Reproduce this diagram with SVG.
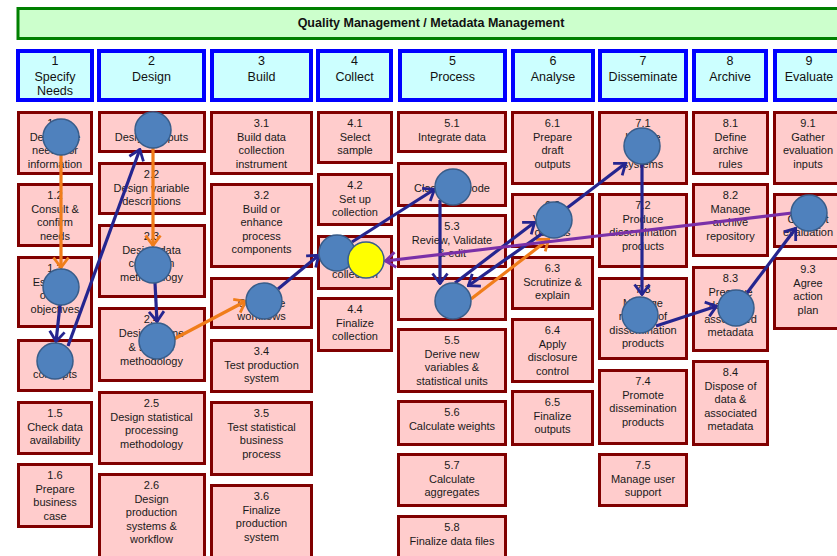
<svg xmlns="http://www.w3.org/2000/svg" width="837" height="556" viewBox="0 0 837 556">
<defs>
<style>
.ttl rect{fill:#ccffcc;stroke:#008000;stroke-width:3}
.ttl text{font-family:"Liberation Sans",Arial,sans-serif;font-size:12.5px;font-weight:bold;fill:#111;text-anchor:middle}
.hdr rect{fill:#ccffff;stroke:#0000ff;stroke-width:4}
.hdr text{font-family:"Liberation Sans",Arial,sans-serif;font-size:12.5px;fill:#111;text-anchor:middle}
.box rect{fill:#ffcccc;stroke:#800000;stroke-width:3}
.box text{font-family:"Liberation Sans",Arial,sans-serif;font-size:11px;fill:#1a1a1a;text-anchor:middle}
.dot{fill:#4f81bd;stroke:#385d8a;stroke-width:1.5}
.ydot{fill:#ffff00;stroke:#385d8a;stroke-width:1.5}
.cn{fill:none;stroke-width:3.2}
.nv{stroke:#25258f}
.or{stroke:#f07d1a}
.pu{stroke:#7a30a8}
</style>
<marker id="mNv" viewBox="0 0 13 18" refX="12" refY="9" markerWidth="13" markerHeight="18" markerUnits="userSpaceOnUse" orient="auto"><path d="M1.5,1.5 L11.5,9 L1.5,16.5" fill="none" stroke="#25258f" stroke-width="2.8"/></marker>
<marker id="mOr" viewBox="0 0 13 18" refX="12" refY="9" markerWidth="13" markerHeight="18" markerUnits="userSpaceOnUse" orient="auto"><path d="M1.5,1.5 L11.5,9 L1.5,16.5" fill="none" stroke="#f07d1a" stroke-width="2.8"/></marker>
<marker id="mPu" viewBox="0 0 13 18" refX="12" refY="9" markerWidth="13" markerHeight="18" markerUnits="userSpaceOnUse" orient="auto"><path d="M1.5,1.5 L11.5,9 L1.5,16.5" fill="none" stroke="#7a30a8" stroke-width="2.8"/></marker>
</defs>
<rect width="837" height="556" fill="#ffffff"/>

<g id="title" class="ttl"><rect x="18" y="8.5" width="830" height="30"/><text x="431" y="27">Quality Management / Metadata Management</text></g>

<g id="h1" class="hdr"><rect x="18" y="51" width="74" height="49"/><text x="55" y="65">1<tspan x="55" y="80.5">Specify</tspan><tspan x="55" y="95">Needs</tspan></text></g>
<g id="h2" class="hdr"><rect x="99" y="51" width="105" height="49"/><text x="151.5" y="65">2<tspan x="151.5" y="80.5">Design</tspan></text></g>
<g id="h3" class="hdr"><rect x="212" y="51" width="99" height="49"/><text x="261.5" y="65">3<tspan x="261.5" y="80.5">Build</tspan></text></g>
<g id="h4" class="hdr"><rect x="318" y="51" width="73" height="49"/><text x="354.5" y="65">4<tspan x="354.5" y="80.5">Collect</tspan></text></g>
<g id="h5" class="hdr"><rect x="400" y="51" width="105" height="49"/><text x="452.5" y="65">5<tspan x="452.5" y="80.5">Process</tspan></text></g>
<g id="h6" class="hdr"><rect x="513" y="51" width="80" height="49"/><text x="553" y="65">6<tspan x="553" y="80.5">Analyse</tspan></text></g>
<g id="h7" class="hdr"><rect x="600" y="51" width="86" height="49"/><text x="643" y="65">7<tspan x="643" y="80.5">Disseminate</tspan></text></g>
<g id="h8" class="hdr"><rect x="694" y="51" width="72" height="49"/><text x="730" y="65">8<tspan x="730" y="80.5">Archive</tspan></text></g>
<g id="h9" class="hdr"><rect x="775" y="51" width="70" height="49"/><text x="809" y="65">9<tspan x="809" y="80.5">Evaluate</tspan></text></g>

<g id="n1-1" class="box"><rect x="18.5" y="112.5" width="73" height="61"/><text x="55" y="127">1.1<tspan x="55" dy="13.5">Determine</tspan><tspan x="55" dy="13.5">needs for</tspan><tspan x="55" dy="13.5">information</tspan></text></g>
<g id="n1-2" class="box"><rect x="18.5" y="184.5" width="73" height="61"/><text x="55" y="199">1.2<tspan x="55" dy="13.5">Consult &amp;</tspan><tspan x="55" dy="13.5">confirm</tspan><tspan x="55" dy="13.5">needs</tspan></text></g>
<g id="n1-3" class="box"><rect x="18.5" y="257.5" width="73" height="69"/><text x="55" y="272">1.3<tspan x="55" dy="13.5">Establish</tspan><tspan x="55" dy="13.5">output</tspan><tspan x="55" dy="13.5">objectives</tspan></text></g>
<g id="n1-4" class="box"><rect x="18.5" y="340.5" width="73" height="50"/><text x="55" y="351">1.4<tspan x="55" dy="13.5">Identify</tspan><tspan x="55" dy="13.5">concepts</tspan></text></g>
<g id="n1-5" class="box"><rect x="18.5" y="402.5" width="73" height="51"/><text x="55" y="417">1.5<tspan x="55" dy="13.5">Check data</tspan><tspan x="55" dy="13.5">availability</tspan></text></g>
<g id="n1-6" class="box"><rect x="18.5" y="464.5" width="73" height="62"/><text x="55" y="479">1.6<tspan x="55" dy="13.5">Prepare</tspan><tspan x="55" dy="13.5">business</tspan><tspan x="55" dy="13.5">case</tspan></text></g>

<g id="n2-1" class="box"><rect x="99.5" y="112.5" width="105" height="39"/><text x="151.5" y="127">2.1<tspan x="151.5" dy="13.5">Design outputs</tspan></text></g>
<g id="n2-2" class="box"><rect x="99.5" y="163.5" width="105" height="50"/><text x="151.5" y="178">2.2<tspan x="151.5" dy="13.5">Design variable</tspan><tspan x="151.5" dy="13.5">descriptions</tspan></text></g>
<g id="n2-3" class="box"><rect x="99.5" y="225.5" width="105" height="71"/><text x="151.5" y="240">2.3<tspan x="151.5" dy="13.5">Design data</tspan><tspan x="151.5" dy="13.5">collection</tspan><tspan x="151.5" dy="13.5">methodology</tspan></text></g>
<g id="n2-4" class="box"><rect x="99.5" y="308.5" width="105" height="72"/><text x="151.5" y="323">2.4<tspan x="151.5" dy="14">Design frame</tspan><tspan x="151.5" dy="14">&amp; sample</tspan><tspan x="151.5" dy="14">methodology</tspan></text></g>
<g id="n2-5" class="box"><rect x="99.5" y="392.5" width="105" height="71"/><text x="151.5" y="407">2.5<tspan x="151.5" dy="13.5">Design statistical</tspan><tspan x="151.5" dy="13.5">processing</tspan><tspan x="151.5" dy="13.5">methodology</tspan></text></g>
<g id="n2-6" class="box"><rect x="99.5" y="474.5" width="105" height="90"/><text x="151.5" y="489">2.6<tspan x="151.5" dy="13.5">Design</tspan><tspan x="151.5" dy="13.5">production</tspan><tspan x="151.5" dy="13.5">systems &amp;</tspan><tspan x="151.5" dy="13.5">workflow</tspan></text></g>

<g id="n3-1" class="box"><rect x="211.5" y="112.5" width="100" height="61"/><text x="261.5" y="127">3.1<tspan x="261.5" dy="13.5">Build data</tspan><tspan x="261.5" dy="13.5">collection</tspan><tspan x="261.5" dy="13.5">instrument</tspan></text></g>
<g id="n3-2" class="box"><rect x="211.5" y="184.5" width="100" height="82"/><text x="261.5" y="199">3.2<tspan x="261.5" dy="13.5">Build or</tspan><tspan x="261.5" dy="13.5">enhance</tspan><tspan x="261.5" dy="13.5">process</tspan><tspan x="261.5" dy="13.5">components</tspan></text></g>
<g id="n3-3" class="box"><rect x="211.5" y="278.5" width="100" height="49"/><text x="261.5" y="293">3.3<tspan x="261.5" dy="13.5">Configure</tspan><tspan x="261.5" dy="13.5">workflows</tspan></text></g>
<g id="n3-4" class="box"><rect x="211.5" y="340.5" width="100" height="51"/><text x="261.5" y="355">3.4<tspan x="261.5" dy="13.5">Test production</tspan><tspan x="261.5" dy="13.5">system</tspan></text></g>
<g id="n3-5" class="box"><rect x="211.5" y="402.5" width="100" height="72"/><text x="261.5" y="417">3.5<tspan x="261.5" dy="13.5">Test statistical</tspan><tspan x="261.5" dy="13.5">business</tspan><tspan x="261.5" dy="13.5">process</tspan></text></g>
<g id="n3-6" class="box"><rect x="211.5" y="485.5" width="100" height="80"/><text x="261.5" y="500">3.6<tspan x="261.5" dy="13.5">Finalize</tspan><tspan x="261.5" dy="13.5">production</tspan><tspan x="261.5" dy="13.5">system</tspan></text></g>

<g id="n4-1" class="box"><rect x="318.5" y="112.5" width="73" height="50"/><text x="355" y="127">4.1<tspan x="355" dy="13.5">Select</tspan><tspan x="355" dy="13.5">sample</tspan></text></g>
<g id="n4-2" class="box"><rect x="318.5" y="174.5" width="73" height="50"/><text x="355" y="189">4.2<tspan x="355" dy="13.5">Set up</tspan><tspan x="355" dy="13.5">collection</tspan></text></g>
<g id="n4-3" class="box"><rect x="318.5" y="236.5" width="73" height="52"/><text x="355" y="251">4.3<tspan x="355" dy="13.5">Run</tspan><tspan x="355" dy="13.5">collection</tspan></text></g>
<g id="n4-4" class="box"><rect x="318.5" y="298.5" width="73" height="52"/><text x="355" y="313">4.4<tspan x="355" dy="13.5">Finalize</tspan><tspan x="355" dy="13.5">collection</tspan></text></g>

<g id="n5-1" class="box"><rect x="398.5" y="112.5" width="107" height="39"/><text x="452" y="127">5.1<tspan x="452" dy="13.5">Integrate data</tspan></text></g>
<g id="n5-2" class="box"><rect x="398.5" y="163.5" width="107" height="42"/><text x="452" y="178">5.2<tspan x="452" dy="13.5">Classify &amp; code</tspan></text></g>
<g id="n5-3" class="box"><rect x="398.5" y="215.5" width="107" height="51"/><text x="452" y="230">5.3<tspan x="452" dy="13.5">Review, Validate</tspan><tspan x="452" dy="13.5">&amp; edit</tspan></text></g>
<g id="n5-4" class="box"><rect x="398.5" y="278.5" width="107" height="41"/><text x="452" y="293">5.4<tspan x="452" dy="13.5">Impute</tspan></text></g>
<g id="n5-5" class="box"><rect x="398.5" y="329.5" width="107" height="62"/><text x="452" y="344">5.5<tspan x="452" dy="13.5">Derive new</tspan><tspan x="452" dy="13.5">variables &amp;</tspan><tspan x="452" dy="13.5">statistical units</tspan></text></g>
<g id="n5-6" class="box"><rect x="398.5" y="401.5" width="107" height="43"/><text x="452" y="416">5.6<tspan x="452" dy="13.5">Calculate weights</tspan></text></g>
<g id="n5-7" class="box"><rect x="398.5" y="454.5" width="107" height="51"/><text x="452" y="469">5.7<tspan x="452" dy="13.5">Calculate</tspan><tspan x="452" dy="13.5">aggregates</tspan></text></g>
<g id="n5-8" class="box"><rect x="398.5" y="516.5" width="107" height="50"/><text x="452" y="531">5.8<tspan x="452" dy="13.5">Finalize data files</tspan></text></g>

<g id="n6-1" class="box"><rect x="512.5" y="112.5" width="80" height="71"/><text x="552.5" y="127">6.1<tspan x="552.5" dy="13.5">Prepare</tspan><tspan x="552.5" dy="13.5">draft</tspan><tspan x="552.5" dy="13.5">outputs</tspan></text></g>
<g id="n6-2" class="box"><rect x="512.5" y="194.5" width="80" height="52"/><text x="552.5" y="209">6.2<tspan x="552.5" dy="13.5">Validate</tspan><tspan x="552.5" dy="13.5">outputs</tspan></text></g>
<g id="n6-3" class="box"><rect x="512.5" y="257.5" width="80" height="51"/><text x="552.5" y="272">6.3<tspan x="552.5" dy="13.5">Scrutinize &amp;</tspan><tspan x="552.5" dy="13.5">explain</tspan></text></g>
<g id="n6-4" class="box"><rect x="512.5" y="319.5" width="80" height="62"/><text x="552.5" y="334">6.4<tspan x="552.5" dy="13.5">Apply</tspan><tspan x="552.5" dy="13.5">disclosure</tspan><tspan x="552.5" dy="13.5">control</tspan></text></g>
<g id="n6-5" class="box"><rect x="512.5" y="391.5" width="80" height="53"/><text x="552.5" y="406">6.5<tspan x="552.5" dy="13.5">Finalize</tspan><tspan x="552.5" dy="13.5">outputs</tspan></text></g>

<g id="n7-1" class="box"><rect x="599.5" y="112.5" width="87" height="71"/><text x="643" y="127">7.1<tspan x="643" dy="13.5">Update</tspan><tspan x="643" dy="13.5">output</tspan><tspan x="643" dy="13.5">systems</tspan></text></g>
<g id="n7-2" class="box"><rect x="599.5" y="194.5" width="87" height="72"/><text x="643" y="209">7.2<tspan x="643" dy="13.5">Produce</tspan><tspan x="643" dy="13.5">dissemination</tspan><tspan x="643" dy="13.5">products</tspan></text></g>
<g id="n7-3" class="box"><rect x="599.5" y="278.5" width="87" height="80"/><text x="643" y="293">7.3<tspan x="643" dy="13.5">Manage</tspan><tspan x="643" dy="13.5">release of</tspan><tspan x="643" dy="13.5">dissemination</tspan><tspan x="643" dy="13.5">products</tspan></text></g>
<g id="n7-4" class="box"><rect x="599.5" y="370.5" width="87" height="73"/><text x="643" y="385">7.4<tspan x="643" dy="13.5">Promote</tspan><tspan x="643" dy="13.5">dissemination</tspan><tspan x="643" dy="13.5">products</tspan></text></g>
<g id="n7-5" class="box"><rect x="599.5" y="454.5" width="87" height="51"/><text x="643" y="469">7.5<tspan x="643" dy="13.5">Manage user</tspan><tspan x="643" dy="13.5">support</tspan></text></g>

<g id="n8-1" class="box"><rect x="693.5" y="112.5" width="74" height="61"/><text x="730.5" y="127">8.1<tspan x="730.5" dy="13.5">Define</tspan><tspan x="730.5" dy="13.5">archive</tspan><tspan x="730.5" dy="13.5">rules</tspan></text></g>
<g id="n8-2" class="box"><rect x="693.5" y="184.5" width="74" height="71"/><text x="730.5" y="199">8.2<tspan x="730.5" dy="13.5">Manage</tspan><tspan x="730.5" dy="13.5">archive</tspan><tspan x="730.5" dy="13.5">repository</tspan></text></g>
<g id="n8-3" class="box"><rect x="693.5" y="267.5" width="74" height="83"/><text x="730.5" y="282">8.3<tspan x="730.5" dy="13.5">Preserve</tspan><tspan x="730.5" dy="13.5">data and</tspan><tspan x="730.5" dy="13.5">associated</tspan><tspan x="730.5" dy="13.5">metadata</tspan></text></g>
<g id="n8-4" class="box"><rect x="693.5" y="361.5" width="74" height="83"/><text x="730.5" y="376">8.4<tspan x="730.5" dy="13.5">Dispose of</tspan><tspan x="730.5" dy="13.5">data &amp;</tspan><tspan x="730.5" dy="13.5">associated</tspan><tspan x="730.5" dy="13.5">metadata</tspan></text></g>

<g id="n9-1" class="box"><rect x="774.5" y="112.5" width="69" height="71"/><text x="808" y="127">9.1<tspan x="808" dy="13.5">Gather</tspan><tspan x="808" dy="13.5">evaluation</tspan><tspan x="808" dy="13.5">inputs</tspan></text></g>
<g id="n9-2" class="box"><rect x="774.5" y="194.5" width="69" height="52"/><text x="808" y="209">9.2<tspan x="808" dy="13.5">Conduct</tspan><tspan x="808" dy="13.5">evaluation</tspan></text></g>
<g id="n9-3" class="box"><rect x="774.5" y="258.5" width="69" height="70"/><text x="808" y="273">9.3<tspan x="808" dy="13.5">Agree</tspan><tspan x="808" dy="13.5">action</tspan><tspan x="808" dy="13.5">plan</tspan></text></g>

<g id="connectors">
<line class="cn or" x1="61" y1="155" x2="61" y2="268" marker-end="url(#mOr)"/>
<line class="cn or" x1="153" y1="148" x2="153" y2="246" marker-end="url(#mOr)"/>
<line class="cn or" x1="174" y1="339" x2="246" y2="301" marker-end="url(#mOr)"/>
<line class="cn or" x1="471" y1="299" x2="549" y2="239" marker-end="url(#mOr)"/>
<line class="cn nv" x1="60" y1="305" x2="56" y2="342" marker-end="url(#mNv)"/>
<line class="cn nv" x1="68" y1="346" x2="140" y2="149" marker-end="url(#mNv)"/>
<line class="cn nv" x1="155" y1="283" x2="157" y2="322" marker-end="url(#mNv)"/>
<line class="cn nv" x1="278" y1="289" x2="319" y2="255" marker-end="url(#mNv)"/>
<line class="cn nv" x1="352" y1="242" x2="435" y2="189" marker-end="url(#mNv)"/>
<line class="cn nv" x1="440" y1="200" x2="440" y2="284" marker-end="url(#mNv)"/>
<line class="cn nv" x1="455" y1="283" x2="535" y2="222" marker-end="url(#mNv)"/>
<line class="cn nv" x1="543" y1="233" x2="468" y2="286" marker-end="url(#mNv)"/>
<line class="cn nv" x1="567" y1="208" x2="626" y2="163" marker-end="url(#mNv)"/>
<line class="cn nv" x1="642" y1="164" x2="642" y2="295" marker-end="url(#mNv)"/>
<line class="cn nv" x1="656" y1="326" x2="717" y2="306" marker-end="url(#mNv)"/>
<line class="cn nv" x1="747" y1="293" x2="796" y2="228" marker-end="url(#mNv)"/>
<line class="cn pu" x1="792" y1="213" x2="385" y2="261" marker-end="url(#mPu)"/>
</g>

<g id="c1"><circle class="dot" cx="61" cy="137" r="18"/></g>
<g id="c2"><circle class="dot" cx="153" cy="130" r="18"/></g>
<g id="c3"><circle class="dot" cx="61" cy="287" r="18"/></g>
<g id="c4"><circle class="dot" cx="153" cy="265" r="18"/></g>
<g id="c5"><circle class="dot" cx="55" cy="361" r="18"/></g>
<g id="c6"><circle class="dot" cx="157" cy="341" r="18"/></g>
<g id="c7"><circle class="dot" cx="264" cy="301" r="18"/></g>
<g id="c8"><circle class="dot" cx="337" cy="253" r="18"/></g>
<g id="c8y"><circle class="ydot" cx="366" cy="260" r="18"/></g>
<g id="c9"><circle class="dot" cx="453" cy="187" r="18"/></g>
<g id="c10"><circle class="dot" cx="453" cy="301" r="18"/></g>
<g id="c11"><circle class="dot" cx="554" cy="220" r="18"/></g>
<g id="c12"><circle class="dot" cx="642" cy="146" r="18"/></g>
<g id="c13"><circle class="dot" cx="640" cy="315" r="18"/></g>
<g id="c14"><circle class="dot" cx="736" cy="308" r="18"/></g>
<g id="c15"><circle class="dot" cx="809" cy="213" r="18"/></g>
</svg>
